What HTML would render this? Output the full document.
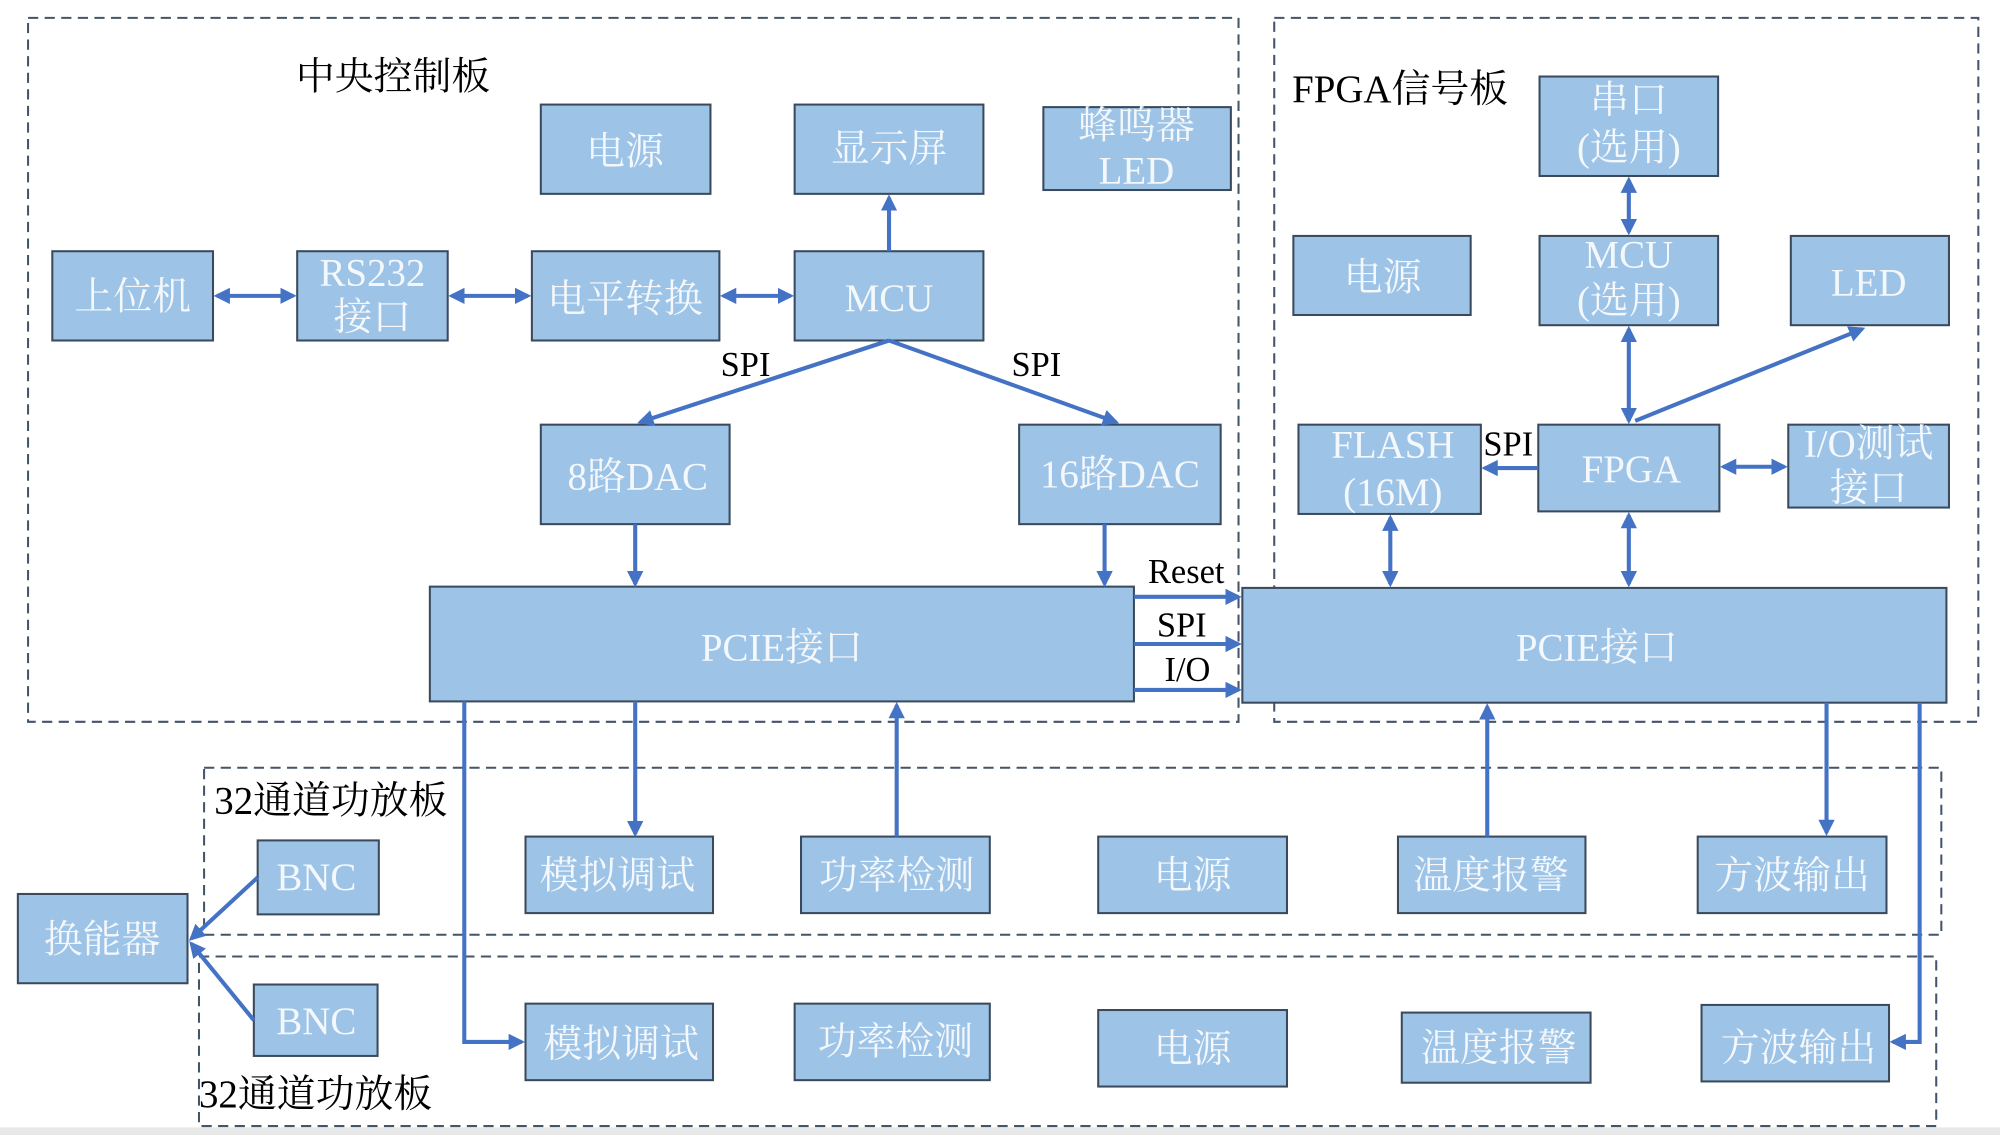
<!DOCTYPE html>
<html><head><meta charset="utf-8">
<style>
html,body{margin:0;padding:0;background:#fff;}
svg{display:block;}
.b{fill:#9dc3e6;stroke:#3a4a5c;stroke-width:1.6;}
.t{font-family:"Liberation Serif","Noto Serif CJK SC",serif;fill:#f4f8fc;font-size:30.5px;text-anchor:middle;dominant-baseline:central;}
.l{font-family:"Liberation Serif","Noto Serif CJK SC",serif;fill:#000;font-size:30.5px;}
.d{fill:none;stroke:#44546a;stroke-width:1.6;stroke-dasharray:8,5;}
.a{fill:none;stroke:#4472c4;stroke-width:3.2;}
</style></head><body>
<svg width="2000" height="1135" viewBox="0 0 1568 890" preserveAspectRatio="none" xmlns="http://www.w3.org/2000/svg">
<defs>
<marker id="m" viewBox="0 0 10 10" refX="8" refY="5" markerWidth="4" markerHeight="4" orient="auto-start-reverse"><path d="M0,0 L10,5 L0,10 z" fill="#4472c4"/></marker>
</defs>
<rect x="0" y="0" width="1568" height="890" fill="#fff"/>
<rect x="0" y="884" width="1568" height="6" fill="#e8e8e8"/>
<rect class="d" x="22" y="14" width="949" height="552"/>
<rect class="d" x="999" y="14" width="552" height="552"/>
<rect class="d" x="160" y="602" width="1362" height="131"/>
<rect class="d" x="156" y="750" width="1362" height="133"/>
<text class="l" x="232" y="70">中央控制板</text>
<text class="l" x="1013" y="80">FPGA信号板</text>
<text class="l" x="168" y="638">32通道功放板</text>
<text class="l" x="156" y="868">32通道功放板</text>
<rect class="b" x="424" y="82" width="133" height="70"/><text class="t" x="490" y="119">电源</text>
<rect class="b" x="623" y="82" width="148" height="70"/><text class="t" x="697" y="117">显示屏</text>
<rect class="b" x="818" y="84" width="147" height="65"/><text class="t" x="891" y="99">蜂鸣器</text><text class="t" x="891" y="134">LED</text>
<rect class="b" x="41" y="197" width="126" height="70"/><text class="t" x="104" y="233">上位机</text>
<rect class="b" x="233" y="197" width="118" height="70"/><text class="t" x="292" y="214">RS232</text><text class="t" x="292" y="249">接口</text>
<rect class="b" x="417" y="197" width="147" height="70"/><text class="t" x="490" y="235">电平转换</text>
<rect class="b" x="623" y="197" width="148" height="70"/><text class="t" x="697" y="234">MCU</text>
<rect class="b" x="424" y="333" width="148" height="78"/><text class="t" x="500" y="374">8路DAC</text>
<rect class="b" x="799" y="333" width="158" height="78"/><text class="t" x="878" y="372">16路DAC</text>
<rect class="b" x="337" y="460" width="552" height="90"/><text class="t" x="613" y="508">PCIE接口</text>
<rect class="b" x="1207" y="60" width="140" height="78"/><text class="t" x="1277" y="79">串口</text><text class="t" x="1277" y="116">(选用)</text>
<rect class="b" x="1014" y="185" width="139" height="62"/><text class="t" x="1084" y="218">电源</text>
<rect class="b" x="1207" y="185" width="140" height="70"/><text class="t" x="1277" y="200">MCU</text><text class="t" x="1277" y="236">(选用)</text>
<rect class="b" x="1404" y="185" width="124" height="70"/><text class="t" x="1465" y="222">LED</text>
<rect class="b" x="1018" y="333" width="143" height="70"/><text class="t" x="1092" y="349">FLASH</text><text class="t" x="1092" y="386">(16M)</text>
<rect class="b" x="1206" y="333" width="142" height="68"/><text class="t" x="1279" y="368">FPGA</text>
<rect class="b" x="1402" y="333" width="126" height="65"/><text class="t" x="1465" y="348">I/O测试</text><text class="t" x="1465" y="383">接口</text>
<rect class="b" x="974" y="461" width="552" height="90"/><text class="t" x="1252" y="508">PCIE接口</text>
<rect class="b" x="202" y="659" width="95" height="58"/><text class="t" x="248" y="688">BNC</text>
<rect class="b" x="412" y="656" width="147" height="60"/><text class="t" x="484" y="687">模拟调试</text>
<rect class="b" x="628" y="656" width="148" height="60"/><text class="t" x="703" y="687">功率检测</text>
<rect class="b" x="861" y="656" width="148" height="60"/><text class="t" x="935" y="687">电源</text>
<rect class="b" x="1096" y="656" width="147" height="60"/><text class="t" x="1169" y="687">温度报警</text>
<rect class="b" x="1331" y="656" width="148" height="60"/><text class="t" x="1405" y="687">方波输出</text>
<rect class="b" x="14" y="701" width="133" height="70"/><text class="t" x="80" y="737">换能器</text>
<rect class="b" x="199" y="772" width="97" height="56"/><text class="t" x="248" y="801">BNC</text>
<rect class="b" x="412" y="787" width="147" height="60"/><text class="t" x="487" y="819">模拟调试</text>
<rect class="b" x="623" y="787" width="153" height="60"/><text class="t" x="702" y="817">功率检测</text>
<rect class="b" x="861" y="792" width="148" height="60"/><text class="t" x="935" y="823">电源</text>
<rect class="b" x="1099" y="794" width="148" height="55"/><text class="t" x="1175" y="822">温度报警</text>
<rect class="b" x="1334" y="788" width="147" height="60"/><text class="t" x="1410" y="822">方波输出</text>
<line class="a" x1="170" y1="232" x2="230" y2="232" marker-start="url(#m)" marker-end="url(#m)"/>
<line class="a" x1="354" y1="232" x2="414" y2="232" marker-start="url(#m)" marker-end="url(#m)"/>
<line class="a" x1="567" y1="232" x2="620" y2="232" marker-start="url(#m)" marker-end="url(#m)"/>
<line class="a" x1="697" y1="197" x2="697" y2="155" marker-end="url(#m)"/>
<line class="a" x1="697" y1="267" x2="502" y2="331" marker-end="url(#m)"/>
<line class="a" x1="697" y1="267" x2="875" y2="331" marker-end="url(#m)"/>
<text class="l" x="565" y="295" style="font-size:27px">SPI</text>
<text class="l" x="793" y="295" style="font-size:27px">SPI</text>
<line class="a" x1="498" y1="411" x2="498" y2="458" marker-end="url(#m)"/>
<line class="a" x1="866" y1="411" x2="866" y2="458" marker-end="url(#m)"/>
<line class="a" x1="889" y1="468" x2="971" y2="468" marker-end="url(#m)"/>
<line class="a" x1="889" y1="505" x2="971" y2="505" marker-end="url(#m)"/>
<line class="a" x1="889" y1="541" x2="971" y2="541" marker-end="url(#m)"/>
<text class="l" x="900" y="457" style="font-size:27px">Reset</text>
<text class="l" x="907" y="499" style="font-size:27px">SPI</text>
<text class="l" x="913" y="534" style="font-size:27px">I/O</text>
<line class="a" x1="498" y1="550" x2="498" y2="654" marker-end="url(#m)"/>
<line class="a" x1="703" y1="656" x2="703" y2="553" marker-end="url(#m)"/>
<polyline class="a" points="364,550 364,817 409,817" marker-end="url(#m)"/>
<line class="a" x1="1277" y1="141" x2="1277" y2="182" marker-start="url(#m)" marker-end="url(#m)"/>
<line class="a" x1="1277" y1="258" x2="1277" y2="330" marker-start="url(#m)" marker-end="url(#m)"/>
<line class="a" x1="1282" y1="330" x2="1460" y2="258" marker-end="url(#m)"/>
<line class="a" x1="1206" y1="367" x2="1164" y2="367" marker-end="url(#m)"/>
<text class="l" x="1163" y="357" style="font-size:27px">SPI</text>
<line class="a" x1="1351" y1="366" x2="1399" y2="366" marker-start="url(#m)" marker-end="url(#m)"/>
<line class="a" x1="1090" y1="406" x2="1090" y2="458" marker-start="url(#m)" marker-end="url(#m)"/>
<line class="a" x1="1277" y1="404" x2="1277" y2="458" marker-start="url(#m)" marker-end="url(#m)"/>
<line class="a" x1="1166" y1="656" x2="1166" y2="554" marker-end="url(#m)"/>
<line class="a" x1="1432" y1="551" x2="1432" y2="653" marker-end="url(#m)"/>
<polyline class="a" points="1505,551 1505,817 1484,817" marker-end="url(#m)"/>
<line class="a" x1="202" y1="688" x2="150" y2="736" marker-end="url(#m)"/>
<line class="a" x1="199" y1="800" x2="150" y2="740" marker-end="url(#m)"/>
</svg>
</body></html>
